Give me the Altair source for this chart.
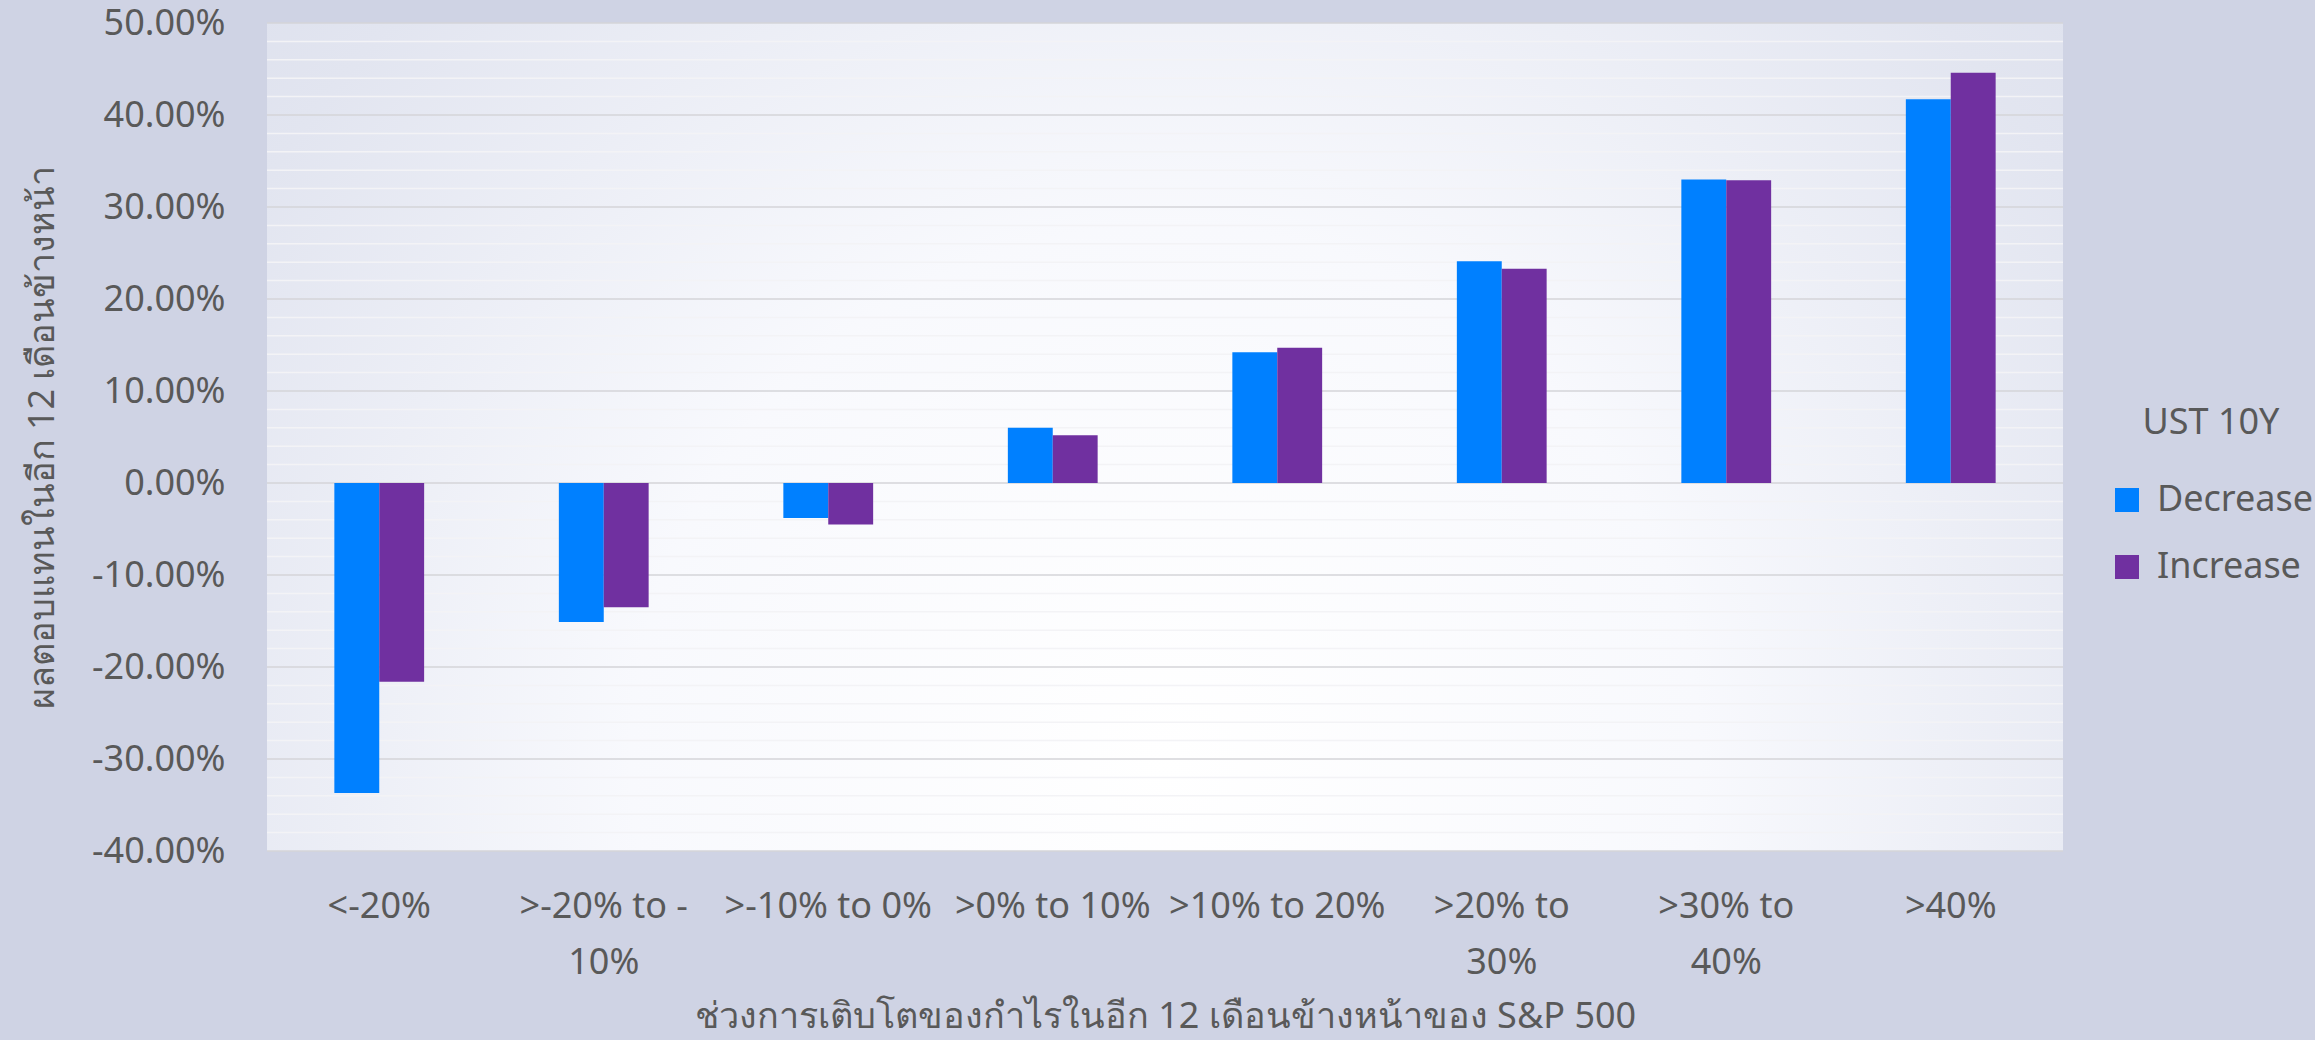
import altair as alt
import pandas as pd

categories = ["<-20%", ">-20% to -10%", ">-10% to 0%", ">0% to 10%",
              ">10% to 20%", ">20% to 30%", ">30% to 40%", ">40%"]
label_lines = {
    ">-20% to -10%": [">-20% to -", "10%"],
    ">20% to 30%": [">20% to", "30%"],
    ">30% to 40%": [">30% to", "40%"],
}
series = ["Decrease", "Increase"]
decrease = [-0.337, -0.151, -0.038, 0.060, 0.142, 0.241, 0.330, 0.417]
increase = [-0.216, -0.135, -0.045, 0.052, 0.147, 0.233, 0.329, 0.446]
colors = ["#0080FF", "#7030A0"]
grid_values = [round(-0.40 + 0.02 * i, 2) for i in range(46)]
tenth_values = [round(-0.40 + 0.10 * i, 2) for i in range(10)]

x_title = "ช่วงการเติบโตของกำไรในอีก 12 เดือนข้างหน้าของ S&P 500"
y_title = "ผลตอบแทนในอีก 12 เดือนข้างหน้า"
legend_title = "UST 10Y"

rows = []
for c, d, i in zip(categories, decrease, increase):
    rows.append({"cat": c, "series": "Decrease", "value": d})
    rows.append({"cat": c, "series": "Increase", "value": i})
df = pd.DataFrame(rows)
grid_df = pd.DataFrame({"value": grid_values})

FONT = "Noto Sans"
TXT = "#595959"
FS = 36

parts = []
for k, v in label_lines.items():
    parts.append(f"datum.label == '{k}' ? {v!r}")
x_label_expr = " : ".join(parts) + " : datum.label"

y_label_expr = "replace(format(datum.value, '.2%'), '\u2212', '-')"

y_scale = alt.Scale(domain=[-0.4, 0.5], nice=False, zero=False)
y_axis = alt.Axis(values=tenth_values, labelExpr=y_label_expr,
                  ticks=False, domain=False, grid=False, labelOverlap=False,
                  labelPadding=42, labelFontSize=FS, labelColor=TXT,
                  labelFont=FONT, titleFontSize=FS, titleColor=TXT,
                  titleFont=FONT, titleFontWeight="normal", titlePadding=30)

bg = alt.Chart(pd.DataFrame({"k": [0]})).mark_rect(
    fill=alt.RadialGradient(
        gradient="radial", x1=0.5, y1=0.68, x2=0.5, y2=0.68, r1=0, r2=0.85,
        stops=[alt.GradientStop(offset=0, color="#ffffff"),
               alt.GradientStop(offset=0.35, color="#f8f9fd"),
               alt.GradientStop(offset=0.7, color="#e2e5f0"),
               alt.GradientStop(offset=1, color="#d5d9e8")]),
    stroke=None,
).encode(x=alt.value(0), x2=alt.value("width"),
         y=alt.value(0), y2=alt.value("height"))

grid = alt.Chart(grid_df).mark_rule(strokeWidth=1.5).encode(
    y=alt.Y("value:Q", title=y_title, scale=y_scale, axis=y_axis),
    x=alt.value(0), x2=alt.value("width"),
    color=alt.condition("abs(round(datum.value*100)) % 10 == 0",
                        alt.value("#d4d4d8"), alt.value("#f3f3f6")),
)

bars = alt.Chart(df).mark_bar().encode(
    x=alt.X("cat:N", sort=categories, title=x_title,
            scale=alt.Scale(paddingInner=0.6, paddingOuter=0.3),
            axis=alt.Axis(labelExpr=x_label_expr, labelAngle=0, ticks=False,
                          domain=False, labelPadding=38, labelLineHeight=56,
                          labelLimit=0,
                          labelFontSize=FS, labelColor=TXT, labelFont=FONT,
                          titleFontSize=FS, titleColor=TXT, titleFont=FONT,
                          titleFontWeight="normal", titlePadding=19,
                          labelBaseline="top")),
    xOffset=alt.XOffset("series:N", sort=series),
    y=alt.Y("value:Q", title=y_title, scale=y_scale, axis=y_axis),
    color=alt.Color("series:N", sort=series,
                    scale=alt.Scale(domain=series, range=colors),
                    legend=alt.Legend(title=legend_title, orient="none",
                                      legendX=1842, legendY=383,
                                      symbolType="square", symbolSize=576,
                                      symbolStrokeWidth=0,
                                      labelFontSize=FS, labelColor=TXT,
                                      labelFont=FONT, labelOffset=12,
                                      labelLimit=0,
                                      titleFontSize=FS, titleColor=TXT,
                                      titleFont=FONT, titleFontWeight="normal",
                                      titleAnchor="middle", titlePadding=40,
                                      rowPadding=31)),
)

chart = alt.layer(bg, grid, bars).properties(
    width=1796, height=828,
    autosize=alt.AutoSizeParams(type="none"),
    padding={"left": 267, "top": 23, "right": 252, "bottom": 189},
    background="#cfd3e4",
).configure_view(stroke=None)

chart.save("out.html", embed_options={"renderer": "svg", "actions": False})
